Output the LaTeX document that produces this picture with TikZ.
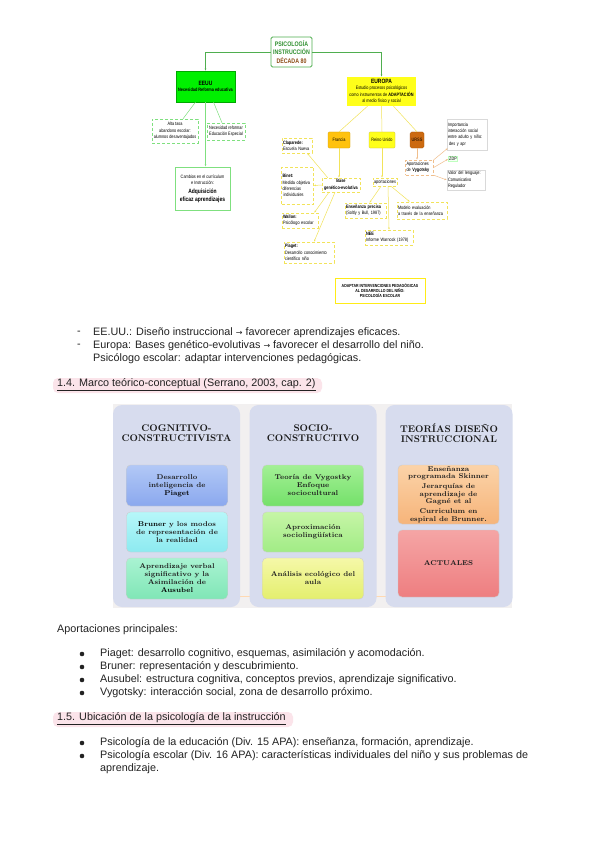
\documentclass[tikz,border=0pt]{standalone}
\usepackage{fontspec}
\setsansfont{Liberation Sans}
\newfontfamily\narrowfont[FakeStretch=0.8]{Liberation Sans}
\newfontfamily\symfont{DejaVu Sans}
\usetikzlibrary{arrows.meta,positioning,calc}
\definecolor{mapgreen}{HTML}{4FAE4F}
\definecolor{rootgreen}{HTML}{2F8F2F}
\definecolor{rootbrown}{HTML}{8B4A13}
\definecolor{lightgreen}{HTML}{7FE07F}
\definecolor{eeuugreen}{HTML}{00F000}
\definecolor{mapyellow}{HTML}{F2E35A}
\definecolor{euyellow}{HTML}{FFFF1A}
\definecolor{frorange}{HTML}{FFC20E}
\definecolor{ussrbrown}{HTML}{CC6A10}
\definecolor{vygpeach}{HTML}{F0BE8C}
\definecolor{panelbg}{HTML}{F2F0F0}
\definecolor{colbg}{HTML}{D7DCEE}
\definecolor{hlpink}{HTML}{FBE4EA}
\definecolor{bodyink}{HTML}{222222}
\definecolor{cogA}{HTML}{B2C8F6}
\definecolor{cogB}{HTML}{8AA8EE}
\definecolor{cogC}{HTML}{B6F7F9}
\definecolor{cogD}{HTML}{8DEAF0}
\definecolor{cogE}{HTML}{A9F3D2}
\definecolor{cogF}{HTML}{80E6B6}
\definecolor{socA}{HTML}{A3F095}
\definecolor{socB}{HTML}{74E06A}
\definecolor{socC}{HTML}{C6F5A6}
\definecolor{socD}{HTML}{A1EC86}
\definecolor{socE}{HTML}{F5F8A8}
\definecolor{socF}{HTML}{E4EF6E}
\definecolor{tdiA}{HTML}{FBD3A8}
\definecolor{tdiB}{HTML}{F6B47A}
\definecolor{tdiC}{HTML}{F5A5A5}
\definecolor{tdiD}{HTML}{EE7E80}
\newcommand\mapfont{\narrowfont\fontsize{4.8}{6.4}\selectfont}
\newcommand\mapbig[1]{{\bfseries\fontsize{6.2}{8}\selectfont #1}}
\newcommand\bodyfont{\sffamily\fontsize{10.8}{13}\selectfont}
\newcommand\panelfont{\rmfamily\bfseries\fontsize{7}{8}\selectfont}
\newcommand\headfont{\rmfamily\bfseries\fontsize{9.7}{10.5}\selectfont}
\begin{document}
\begin{tikzpicture}[x=1pt,y=-1pt,
 mapbox/.style={draw=mapyellow,densely dashed,fill=white,inner sep=1pt,font=\mapfont,align=left},
 greenbox/.style={draw=lightgreen,densely dashed,fill=white,inner sep=1pt,font=\mapfont,align=center},
 peachbox/.style={draw=black!15,fill=white,inner sep=1pt,font=\mapfont,align=left},
 mapline/.style={mapyellow,line width=0.5pt},
 greenline/.style={lightgreen,line width=0.5pt},
 peachline/.style={vygpeach,line width=0.5pt},
 maptip/.style={-{Latex[length=2.2pt,width=1.8pt]}},
 inbox/.style={rounded corners=4pt,draw=black!20,minimum width=101,align=center,font=\panelfont,text=black!88},
 colhead/.style={align=center,font=\headfont,text=black!90},
 bodytext/.style={anchor=west,inner sep=0pt,font=\bodyfont,text=bodyink}]
\useasboundingbox (0,0) rectangle (600,848);
\fill[white] (0,0) rectangle (600,848);

% concept map
\node[draw=mapgreen,line width=0.8pt,rounded corners=1.5pt,fill=white,minimum width=41,minimum height=30,inner sep=0.5pt,align=center,text=rootgreen,font=\narrowfont\bfseries\fontsize{6.6}{8.6}\selectfont] (root) at (291.5,52) {PSICOLOGÍA\\INSTRUCCIÓN\\\textcolor{rootbrown}{DÉCADA 80}};
\node[fill=eeuugreen,draw=eeuugreen!70!black,line width=0.3pt,minimum width=59,minimum height=31,inner sep=1pt,align=center,font=\mapfont\bfseries] (eeuu) at (205.5,86.5) {\mapbig{EEUU}\\Necesidad Reforma educativa};
\node[greenbox,minimum width=46,minimum height=24] (alta) at (175,131) {Alta tasa\\abandono escolar:\\alumnos desaventajados};
\node[greenbox,minimum width=38,minimum height=17] (necesidad) at (226,131.5) {Necesidad reformar\\Educación Especial};
\node[draw=lightgreen,line width=0.8pt,fill=white,minimum width=55,minimum height=43,inner sep=1pt,align=center,font=\mapfont] (cambios) at (202.5,188.5) {Cambios en el currículum\\e Instrucción:\\[3pt]\mapbig{Adquisición}\\[1pt]\mapbig{eficaz aprendizajes}};

\node[fill=euyellow,minimum width=69,minimum height=29,inner sep=1pt,align=center,font=\mapfont] (europa) at (381.5,91.5) {\mapbig{EUROPA}\\Estudio procesos psicológicos\\como instrumentos de \textbf{ADAPTACIÓN}\\al medio físico y social};
\node[fill=frorange,draw=frorange!80!black,line width=0.3pt,rounded corners=1pt,minimum width=22,minimum height=16,inner sep=0.5pt,font=\mapfont] (francia) at (339,140) {Francia};
\node[fill=euyellow,draw=mapyellow!80!black,line width=0.3pt,rounded corners=1pt,minimum width=26,minimum height=16,inner sep=0.5pt,font=\mapfont] (reino) at (382,140) {Reino Unido};
\node[fill=ussrbrown,draw=ussrbrown!80!black,line width=0.3pt,rounded corners=1.5pt,minimum width=14,minimum height=16,inner sep=0.5pt,font=\mapfont] (urss) at (417,140) {URSS};

\node[mapbox,align=center,font=\mapfont\bfseries,minimum width=38,minimum height=14] (base) at (341,185) {Base\\genético-evolutiva};
\node[mapbox,text width=28,minimum height=15] (clap) at (297,145.5) {\textbf{Claparede:}\\Escuela Nueva};
\node[mapbox,text width=30,minimum height=37] (binet) at (297.5,185.5) {\textbf{Binet:}\\Medida objetiva\\diferencias\\\hspace*{1pt}individuales};
\node[mapbox,text width=34,minimum height=15] (wallon) at (300,220.5) {\textbf{Wallon:}\\Psicólogo escolar};
\node[mapbox,text width=48,minimum height=21] (piaget) at (309,252.5) {\textbf{Piaget:}\\Desarrollo conocimiento\\científico niño};

\node[mapbox,align=center,minimum width=24,minimum height=8] (aport) at (385,182) {aportaciones};
\node[mapbox,text width=39,minimum height=15] (ensen) at (365.5,210.5) {\textbf{Enseñanza precisa}\\(Soltly y Bull, 1987)};
\node[mapbox,text width=48,minimum height=17] (modelo) at (422,210.5) {Modelo evaluación\\a través de la enseñanza};
\node[mapbox,text width=46,minimum height=15] (nee) at (389,237.5) {\textbf{NEE}\\Informe Warnock (1978)};

\node[mapbox,draw=vygpeach,text width=26,minimum height=15] (vyg) at (419.5,167.5) {Aportaciones\\de \textbf{Vygotsky}};
\node[peachbox,text width=38,minimum height=31] (impor) at (467,134.5) {Importancia\\interacción social\\entre adulto y  niño:\\\hspace*{1pt}des y apr};
\node[peachbox,draw=green!25,fill=green!4,inner sep=0.8pt] (zdp) at (453,159) {ZDP};
\node[peachbox,text width=36,minimum height=20] (valor) at (466,180) {Valor del lenguaje:\\Comunicativo\\Regulador};

\node[draw=euyellow!85!orange,line width=1pt,fill=white,minimum width=90,minimum height=25,align=center,font=\narrowfont\bfseries\fontsize{4.4}{5.4}\selectfont] (adaptar) at (380,290.5) {ADAPTAR INTERVENCIONES PEDAGÓGICAS\\AL DESARROLLO DEL NIÑO:\\PSICOLOGÍA ESCOLAR};

\draw[mapgreen,line width=0.7pt,maptip] (root.west) -| (eeuu.north);
\draw[mapgreen,line width=0.7pt,maptip] (root.east) -| (europa.north);
\draw[greenline] ($(eeuu.south)+(-10,0)$) -- ($(alta.north)+(8,0)$);
\draw[greenline] ($(eeuu.south)+(8,0)$) -- ($(necesidad.north)+(-4,0)$);
\draw[greenline,maptip] (eeuu.south) -- (eeuu.south |- cambios.north);
\draw[mapline] ($(europa.south)+(-14,0)$) -- (francia.north);
\draw[mapline] (europa.south) -- (reino.north);
\draw[mapline] ($(europa.south)+(12,0)$) -- (urss.north);
\draw[mapline,maptip] (francia.south) -- (francia.south |- base.north);
\draw[mapline,maptip] ($(base.north west)+(6,0)$) -- ($(clap.south east)+(-5,0)$);
\draw[mapline,maptip] (base.west) -- (binet.east);
\draw[mapline,maptip] ($(base.south)+(-12,0)$) -- ($(wallon.north east)+(-4,0)$);
\draw[mapline,maptip] ($(base.south)+(-6,0)$) -- ($(piaget.north)+(5,0)$);
\draw[mapline,maptip] (reino.south) -- (reino.south |- aport.north);
\draw[mapline,maptip] ($(aport.south)+(-4,0)$) -- ($(ensen.north)+(4,0)$);
\draw[mapline,maptip] ($(aport.south)+(3,0)$) -- (nee.north);
\draw[mapline,maptip] ($(aport.south)+(6,0)$) -- ($(modelo.north west)+(13,0)$);
\draw[peachline,maptip] (urss.south) -- (urss.south |- vyg.north);
\draw[peachline,maptip] (vyg.north east) -- ($(impor.south west)+(1,-2)$);
\draw[peachline,maptip] (vyg.east) -- (zdp.west);
\draw[peachline,maptip] (vyg.south east) -- (valor.west);

% text under the map
\node[bodytext] (dash1) at (77,333) {-};
\node[bodytext] (eeuutxt) at (93,333) {EE.UU.: Diseño instruccional {\symfont\fontsize{8}{10}\selectfont →} favorecer aprendizajes eficaces.};
\node[bodytext] (dash2) at (77,346) {-};
\node[bodytext] (europatxt) at (93,346) {Europa: Bases genético-evolutivas {\symfont\fontsize{8}{10}\selectfont →} favorecer el desarrollo del niño.};
\node[bodytext] (psicotxt) at (93,359) {Psicólogo escolar: adaptar intervenciones pedagógicas.};
\fill[hlpink,rounded corners=5pt] (53,378) rectangle (322,393);
\node[bodytext] (marco) at (57,385) {\underline{1.4. Marco teórico-conceptual (Serrano, 2003, cap. 2)}};

% three columns
\fill[panelbg] (113,404) rectangle (512,608);
\draw[orange!30,line width=0.6pt] (113,596) -- (512,596);
\foreach \cx in {176.5,313,449}
 \fill[colbg,rounded corners=9pt] (\cx-63.5,405) rectangle (\cx+63.5,607);
\node[colhead] (cognitivo) at (176.5,433) {COGNITIVO-\\CONSTRUCTIVISTA};
\node[colhead] (socio) at (313,433) {SOCIO-\\CONSTRUCTIVO};
\node[colhead] (teorias) at (449,433) {TEORÍAS DISEÑO\\INSTRUCCIONAL};
\node[inbox,minimum height=41,top color=cogA,bottom color=cogB] (piagetbox) at (177,485.5) {Desarrollo\\inteligencia de\\\textcolor{black}{Piaget}};
\node[inbox,minimum height=40,top color=cogC,bottom color=cogD] (brunerbox) at (177,532) {\textcolor{black}{Bruner} y los modos\\de representación de\\la realidad};
\node[inbox,minimum height=41,top color=cogE,bottom color=cogF] (ausubelbox) at (177,578.5) {Aprendizaje verbal\\significativo y la\\Asimilación de\\\textcolor{black}{Ausubel}};
\node[inbox,minimum height=41,top color=socA,bottom color=socB] (vygbox) at (313,485.5) {Teoría de Vygostky\\Enfoque\\sociocultural};
\node[inbox,minimum height=40,top color=socC,bottom color=socD] (linguabox) at (313,532) {Aproximación\\sociolingüística};
\node[inbox,minimum height=41,top color=socE,bottom color=socF] (ecobox) at (313,578.5) {Análisis ecológico del\\aula};
\node[inbox,minimum height=59,inner sep=1pt,font=\rmfamily\bfseries\fontsize{7}{7.3}\selectfont,top color=tdiA,bottom color=tdiB] (skinnerbox) at (448.5,494.5) {Enseñanza\\programada Skinner\\[3pt]Jerarquías de\\aprendizaje de\\Gagné et al\\[3pt]Curriculum en\\espiral de Brunner.};
\node[inbox,minimum height=67,top color=tdiC,bottom color=tdiD] (actualesbox) at (448.5,563.5) {ACTUALES};

% contributions
\node[bodytext] (aportitle) at (57,630) {Aportaciones principales:};
\foreach \y/\txt [count=\i] in {654/{Piaget: desarrollo cognitivo, esquemas, asimilación y acomodación.},
 667/{Bruner: representación y descubrimiento.},
 680/{Ausubel: estructura cognitiva, conceptos previos, aprendizaje significativo.},
 693/{Vygotsky: interacción social, zona de desarrollo próximo.}} {
 \fill[bodyink] (82,\y) circle (2.3);
 \node[bodytext] (autor\i) at (100,\y) {\txt};
}
\fill[hlpink,rounded corners=5pt] (53,712) rectangle (293,727);
\node[bodytext] (ubicacion) at (57,719) {\underline{1.5. Ubicación de la psicología de la instrucción}};
\foreach \y/\txt [count=\i] in {743/{Psicología de la educación (Div. 15 APA): enseñanza, formación, aprendizaje.},
 756/{Psicología escolar (Div. 16 APA): características individuales del niño y sus problemas de}} {
 \fill[bodyink] (82,\y) circle (2.3);
 \node[bodytext] (apa\i) at (100,\y) {\txt};
}
\node[bodytext] (apacont) at (100,769) {aprendizaje.};
\end{tikzpicture}
\end{document}
